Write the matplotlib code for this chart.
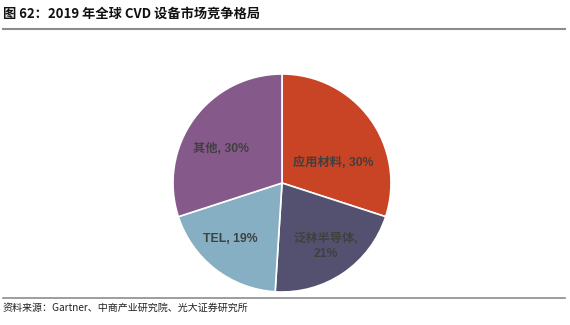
import matplotlib.pyplot as plt
from matplotlib.lines import Line2D

plt.rcParams['font.family'] = ['Noto Sans CJK SC', 'DejaVu Sans']

# data
companies = ["应用材料", "泛林半导体", "TEL", "其他"]
shares = [30, 21, 19, 30]
label_text = ["应用材料, 30%", "泛林半导体,\n21%", "TEL, 19%", "其他, 30%"]

COLORS = ["#C84424", "#54506F", "#86AFC4", "#855A8A"]
# label centres in units of the pie radius (Excel best-fit placement)
LABEL_POS = [(0.47, 0.19), (0.40, -0.58), (-0.47, -0.51), (-0.56, 0.31)]

W, H = 570, 325
fig = plt.figure(figsize=(W / 100, H / 100), dpi=100)

cx, cy, r = 282, H - 183, 109
ax = fig.add_axes([(cx - r) / W, (cy - r) / H, 2 * r / W, 2 * r / H])
ax.pie(shares, colors=COLORS, startangle=90, counterclock=False,
       wedgeprops=dict(edgecolor="white", linewidth=1.2))
ax.set_xlim(-1, 1)
ax.set_ylim(-1, 1)
ax.set_aspect("equal")
for txt, (px, py) in zip(label_text, LABEL_POS):
    ax.text(px, py, txt, ha="center", va="center", fontsize=8.8,
            fontweight="bold", color="#404040", linespacing=1.25,
            family=["Liberation Sans", "Noto Sans CJK SC"])

fig.text(3 / W, 1 - 14 / H, "图 62：2019 年全球 CVD 设备市场竞争格局",
         fontsize=9.5, fontweight="bold", color="#111111", va="center", ha="left")
fig.add_artist(Line2D([3 / W, 565 / W], [1 - 29 / H, 1 - 29 / H],
                      color="#8c8c8c", linewidth=1.5, transform=fig.transFigure))
fig.add_artist(Line2D([3 / W, 565 / W], [1 - 298 / H, 1 - 298 / H],
                      color="#8c8c8c", linewidth=1.2, transform=fig.transFigure))
fig.text(3 / W, 1 - 308 / H, "资料来源：Gartner、中商产业研究院、光大证券研究所",
         fontsize=7.2, color="#222222", va="center", ha="left")

fig.savefig("out.png", dpi=100)
